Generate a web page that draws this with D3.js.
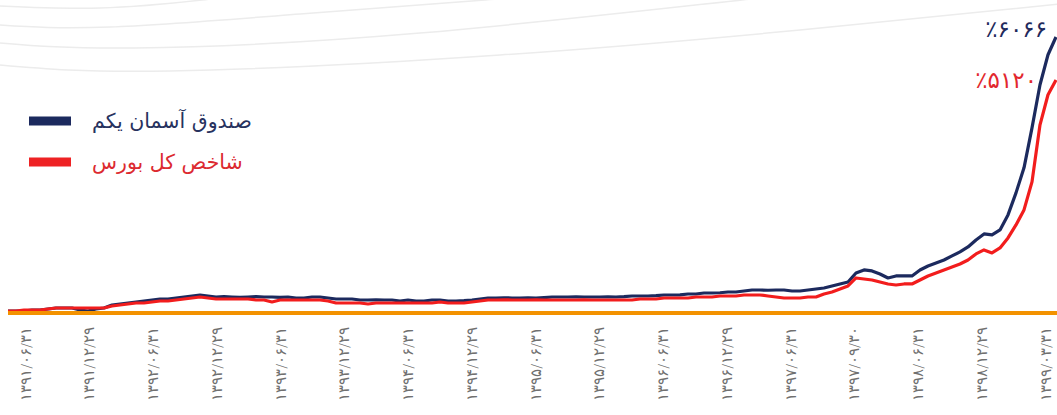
<!DOCTYPE html>
<html>
<head>
<meta charset="utf-8">
<script src="https://cdn.jsdelivr.net/npm/d3@7"></script>
<style>
    body { margin: 0; background: #fff; }
    svg { display: block; }
</style>
</head>
<body>
<svg id="grafico"></svg>
<script>
//dados, um ponto a cada ~8px, valores em % de retorno acumulado
var fundoNome = "صندوق آسمان یکم"
var indiceNome = "شاخص کل بورس"

var fundo = [
    44, 44, 44, 66, 66, 88, 110, 110, 110, 66,
    44, 88, 110, 176, 198, 220, 242, 264, 286, 308,
    308, 330, 352, 374, 396, 374, 352, 360, 352, 345,
    352, 360, 352, 352, 345, 352, 330, 330, 352, 352,
    330, 308, 308, 308, 286, 286, 290, 286, 286, 264,
    286, 264, 264, 286, 286, 264, 264, 270, 286, 308,
    330, 330, 335, 330, 330, 335, 330, 340, 352, 352,
    352, 355, 352, 352, 352, 355, 352, 360, 374, 374,
    374, 380, 396, 396, 400, 418, 418, 440, 440, 445,
    462, 462, 484, 506, 506, 500, 506, 506, 484, 484,
    506, 528, 550, 594, 638, 682, 880, 946, 924, 858,
    770, 814, 814, 814, 946, 1034, 1100, 1166, 1254, 1342,
    1452, 1606, 1738, 1716, 1826, 2156, 2640, 3190, 4070, 5016,
    5676, 6066
]

var indice = [
    44, 44, 66, 66, 66, 88, 110, 110, 110, 110,
    110, 110, 110, 154, 176, 198, 220, 220, 242, 264,
    264, 286, 308, 330, 352, 330, 308, 308, 308, 308,
    308, 286, 286, 242, 286, 286, 286, 286, 286, 286,
    264, 220, 220, 220, 220, 198, 220, 220, 220, 220,
    220, 220, 220, 220, 242, 220, 220, 220, 242, 264,
    286, 286, 290, 286, 286, 286, 290, 286, 286, 286,
    286, 286, 290, 286, 286, 286, 286, 286, 286, 308,
    308, 308, 330, 330, 330, 330, 352, 352, 352, 374,
    374, 374, 396, 396, 396, 374, 352, 330, 330, 330,
    352, 352, 418, 462, 528, 594, 770, 748, 726, 682,
    638, 616, 638, 638, 726, 814, 880, 946, 1012, 1078,
    1166, 1298, 1386, 1320, 1430, 1650, 1936, 2266, 2882, 4136,
    4796, 5120
]

//rotulos do eixo x (datas)
var datas = [
    "۱۳۹۱/۰۶/۳۱", "۱۳۹۱/۱۲/۲۹", "۱۳۹۲/۰۶/۳۱", "۱۳۹۲/۱۲/۲۹",
    "۱۳۹۳/۰۶/۳۱", "۱۳۹۳/۱۲/۲۹", "۱۳۹۴/۰۶/۳۱", "۱۳۹۴/۱۲/۲۹",
    "۱۳۹۵/۰۶/۳۱", "۱۳۹۵/۱۲/۲۹", "۱۳۹۶/۰۶/۳۱", "۱۳۹۶/۱۲/۲۹",
    "۱۳۹۷/۰۶/۳۱", "۱۳۹۷/۰۹/۳۰", "۱۳۹۸/۰۶/۳۱", "۱۳۹۸/۱۲/۲۹",
    "۱۳۹۹/۰۳/۳۱"
]

var rotuloFundo = "٪۶۰۶۶"
var rotuloIndice = "٪۵۱۲۰"

const width = 1057
const height = 415
var corAzul = "#1c2a5e"
var corVermelho = "#f21d1d"
var fonte = "DejaVu Sans, sans-serif"

var svg = d3.select("#grafico")
    .attr("width", width)
    .attr("height", height)

//ondas cinzas do fundo (so enfeite)
var ondas = [
    [[0, 6], [100, 8], [202, 0], [280, -10]],
    [[0, 25], [110, 27], [300, 14], [485, 0], [580, -8]],
    [[0, 43], [135, 48], [420, 33], [742, 0], [820, -6]],
    [[0, 65], [170, 71], [500, 55], [800, 30], [1060, 4]]
]
var linhaOnda = d3.line().curve(d3.curveNatural)
svg.append("g")
    .selectAll("path")
    .data(ondas)
    .join("path")
    .attr("d", d => linhaOnda(d))
    .attr("fill", "none")
    .attr("stroke", "#ececec")
    .attr("stroke-width", 1.5)

// escalas
var x = d3.scaleLinear()
    .domain([0, fundo.length - 1])
    .range([8, 1056])

var y = d3.scaleLinear()
    .domain([0, 6066])
    .range([313, 37])

var linha = d3.line()
    .x((d, i) => x(i))
    .y(d => y(d))

svg.append("path")
    .datum(fundo)
    .attr("d", linha)
    .attr("fill", "none")
    .attr("stroke", corAzul)
    .attr("stroke-width", 3.2)
    .attr("stroke-linejoin", "round")

svg.append("path")
    .datum(indice)
    .attr("d", linha)
    .attr("fill", "none")
    .attr("stroke", corVermelho)
    .attr("stroke-width", 3.2)
    .attr("stroke-linejoin", "round")

//eixo x com as datas giradas
var xDatas = d3.scalePoint()
    .domain(datas)
    .range([25, 1045])

var eixo = svg.append("g")
    .attr("transform", "translate(0,313)")
    .call(d3.axisBottom(xDatas).tickSize(0).tickPadding(0))

eixo.select(".domain")
    .attr("d", "M8,0H1057")
    .attr("stroke", "#f39200")
    .attr("stroke-width", 4)

eixo.selectAll("text")
    .attr("transform", "rotate(-90)")
    .attr("x", -14)
    .attr("y", 0)
    .attr("dy", "0.35em")
    .attr("text-anchor", "end")
    .style("font-family", fonte)
    .style("font-size", "14.5px")
    .style("font-weight", 200)
    .style("fill", "#707070")

// legenda
var legenda = svg.append("g")
var itens = [
    {nome: fundoNome, cor: corAzul, texto: "#27325e", y: 121},
    {nome: indiceNome, cor: "#ee2224", texto: "#dc2a30", y: 162}
]
legenda.selectAll("rect")
    .data(itens)
    .join("rect")
    .attr("x", 29)
    .attr("y", d => d.y - 4.5)
    .attr("width", 42)
    .attr("height", 9)
    .attr("fill", d => d.cor)

legenda.selectAll("text")
    .data(itens)
    .join("text")
    .attr("x", 92)
    .attr("y", d => d.y)
    .attr("dy", "0.35em")
    .style("font-family", fonte)
    .style("font-size", "20.5px")
    .style("fill", d => d.texto)
    .text(d => d.nome)

//valores finais no canto direito
svg.append("text")
    .attr("x", 1047)
    .attr("y", 37)
    .attr("text-anchor", "end")
    .style("font-family", fonte)
    .style("font-size", "23px")
    .style("fill", "#1f2a5c")
    .text(rotuloFundo)

svg.append("text")
    .attr("x", 1037)
    .attr("y", 88)
    .attr("text-anchor", "end")
    .style("font-family", fonte)
    .style("font-size", "23px")
    .style("fill", "#e2282e")
    .text(rotuloIndice)
</script>
</body>
</html>
